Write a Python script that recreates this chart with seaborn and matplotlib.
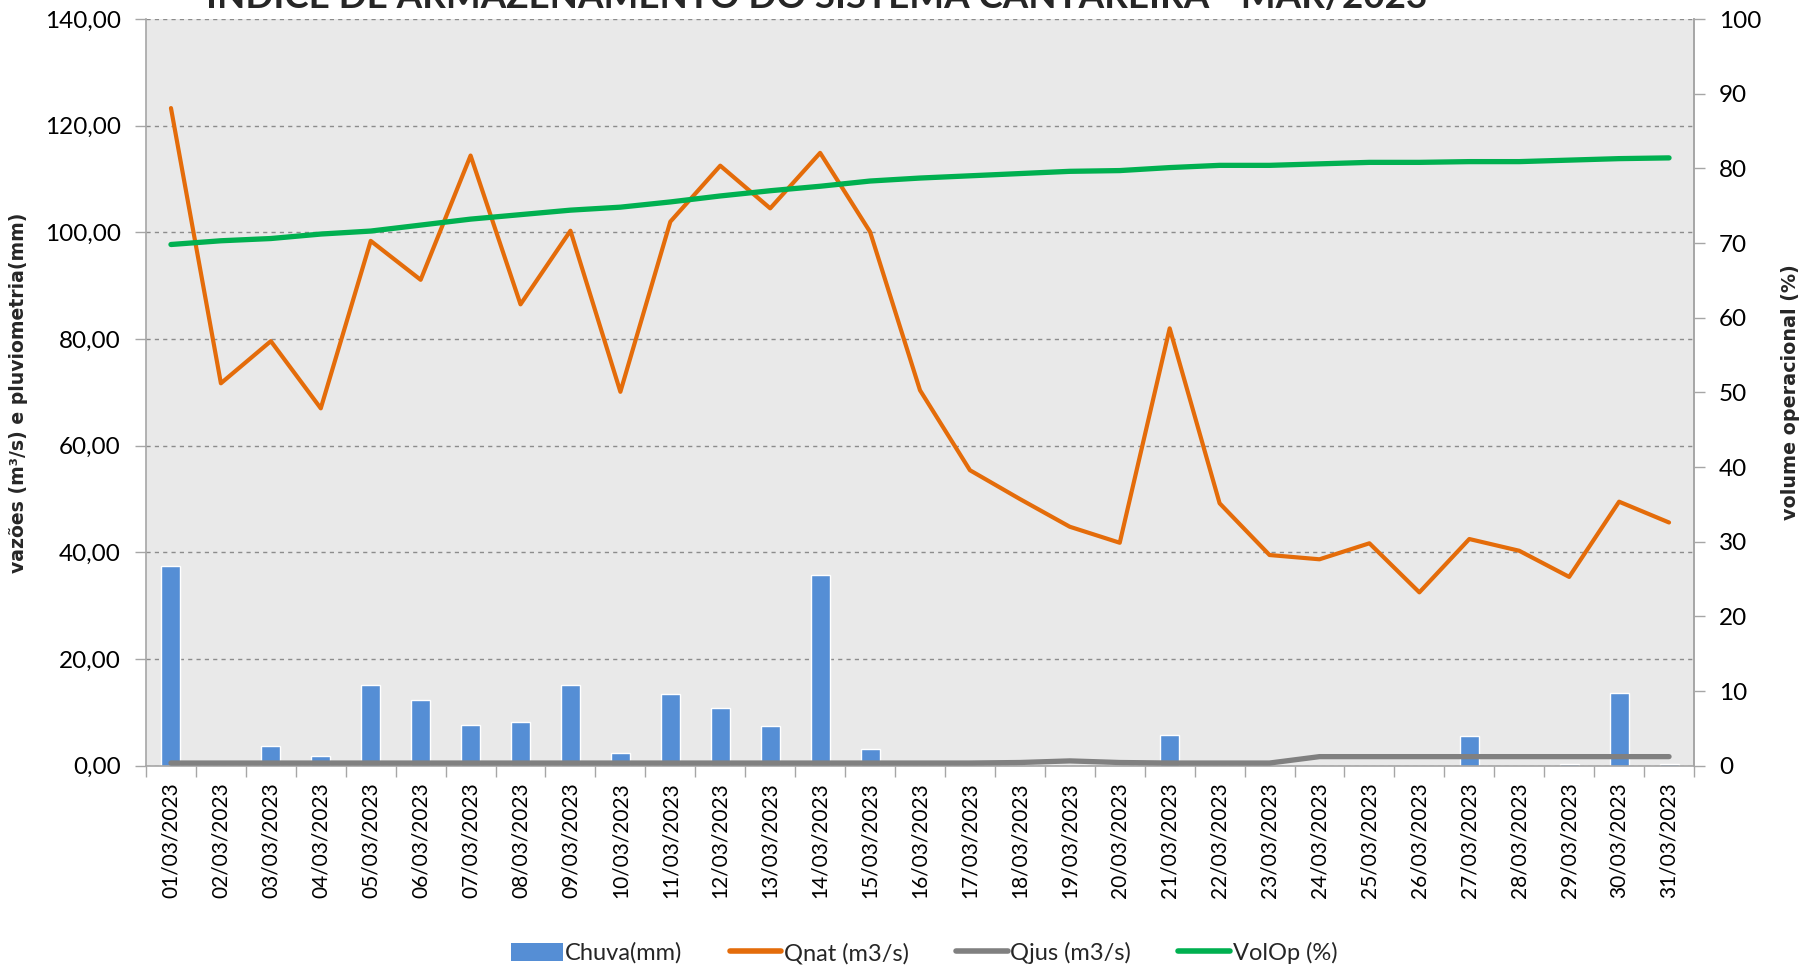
import numpy as np
import pandas as pd
import matplotlib
matplotlib.use("Agg")
import matplotlib.pyplot as plt
from matplotlib.patches import Patch
from matplotlib.lines import Line2D
from matplotlib.ticker import MultipleLocator, FixedLocator, FuncFormatter
import seaborn as sns

dates = [f"{d:02d}/03/2023" for d in range(1, 32)]
chuva = [37.4, 0.0, 3.6, 1.9, 15.1, 12.3, 7.6, 8.1, 15.1, 2.3, 13.4, 10.8, 7.4, 35.7, 3.1,
         0.0, 0.0, 0.0, 0.0, 0.0, 5.7, 0.0, 0.0, 0.0, 0.0, 0.0, 5.5, 0.0, 0.3, 13.7, 0.3]
qnat = [123.3, 71.7, 79.6, 67.0, 98.4, 91.1, 114.4, 86.5, 100.3, 70.1, 102.0, 112.5, 104.5, 114.9, 100.1,
        70.4, 55.4, 50.0, 44.8, 41.8, 82.0, 49.2, 39.5, 38.7, 41.7, 32.5, 42.5, 40.3, 35.4, 49.5, 45.6]
qjus = [0.5, 0.5, 0.5, 0.5, 0.5, 0.5, 0.5, 0.5, 0.5, 0.5, 0.5, 0.5, 0.5, 0.5, 0.5,
        0.5, 0.5, 0.6, 0.9, 0.6, 0.5, 0.5, 0.5, 1.7, 1.7, 1.7, 1.7, 1.7, 1.7, 1.7, 1.7]
volop = [69.8, 70.3, 70.6, 71.2, 71.6, 72.4, 73.2, 73.8, 74.4, 74.8, 75.5, 76.3, 77.0, 77.6, 78.3,
         78.7, 79.0, 79.3, 79.6, 79.7, 80.1, 80.4, 80.4, 80.6, 80.8, 80.8, 80.9, 80.9, 81.1, 81.3, 81.4]

title = "ÍNDICE DE ARMAZENAMENTO DO SISTEMA CANTAREIRA - MAR/2023"
left_label = "vazões (m³/s) e pluviometria(mm)"
right_label = "volume operacional (%)"
legend_labels = ["Chuva(mm)", "Qnat (m3/s)", "Qjus (m3/s)", "VolOp (%)"]

C_BAR = "#558ED5"
C_QNAT = "#E46C0A"
C_QJUS = "#808080"
C_VOL = "#00B050"
BG = "#E9E9E9"
AXC = "#A6A6A6"

sns.set_theme(style="white")
plt.rcParams["font.family"] = ["Lato", "DejaVu Sans"]

df = pd.DataFrame({"data": dates, "idx": np.arange(len(dates)), "chuva": chuva,
                   "qnat": qnat, "qjus": qjus, "volop": volop})

fig = plt.figure(figsize=(18.02, 9.68), dpi=100)
ax = fig.add_axes([146 / 1802, 1 - 765.7 / 968, (1694 - 146) / 1802, (765.7 - 19) / 968])
ax.set_facecolor(BG)

sns.barplot(data=df, x="idx", y="chuva", color=C_BAR, width=0.38, saturation=1, ax=ax, zorder=2)
sns.lineplot(data=df, x="idx", y="qnat", color=C_QNAT, lw=3.0, ax=ax, zorder=4)
sns.lineplot(data=df, x="idx", y="qjus", color=C_QJUS, lw=3.8, ax=ax, zorder=3)

ax.set_xlim(-0.5, len(dates) - 0.5)
ax.set_ylim(0, 140)
ax.yaxis.set_major_locator(MultipleLocator(20))
ax.yaxis.set_major_formatter(FuncFormatter(lambda v, p: f"{v:.2f}".replace(".", ",")))
ax.grid(axis="y", color="#8C8C8C", ls=(0, (3, 3)), lw=1.0, zorder=1)
ax.set_axisbelow(True)

ax.xaxis.set_major_locator(FixedLocator(np.arange(len(dates))))
ax.set_xticklabels(dates, rotation=90)
ax.xaxis.set_minor_locator(FixedLocator(np.arange(len(dates) + 1) - 0.5))
ax.tick_params(axis="x", which="major", length=0, pad=12, labelsize=15, colors="black")
ax.tick_params(axis="x", which="minor", length=8, width=1, color=AXC, bottom=True)
ax.tick_params(axis="y", which="major", length=8, width=1, color=AXC, pad=10, labelsize=17.5,
               labelcolor="black", left=True)
ax.set_xlabel("")
ax.set_ylabel(left_label, fontsize=13.6, fontweight="bold", family="DejaVu Sans", labelpad=12)

ax.spines["top"].set_visible(False)
for s in ["left", "bottom", "right"]:
    ax.spines[s].set_color(AXC)
    ax.spines[s].set_linewidth(1.2)

ax2 = ax.twinx()
sns.lineplot(data=df, x="idx", y="volop", color=C_VOL, lw=3.8, ax=ax2, zorder=5)
ax2.set_ylim(0, 100)
ax2.yaxis.set_major_locator(MultipleLocator(10))
ax2.tick_params(axis="y", length=8, width=1, color=AXC, pad=10, labelsize=17.5, labelcolor="black", right=True)
ax2.set_ylabel(right_label, fontsize=13.8, fontweight="bold", family="DejaVu Sans", labelpad=14)
ax2.set_xlabel("")
for s in ["top", "left", "bottom"]:
    ax2.spines[s].set_visible(False)
ax2.spines["right"].set_color(AXC)
ax2.spines["right"].set_linewidth(1.2)
ax2.set_xlim(-0.5, len(dates) - 0.5)

fig.text(817 / 1802, 1 - 8 / 968, title, ha="center", va="baseline", fontsize=26.5, fontweight="bold")

handles = [Patch(facecolor=C_BAR, edgecolor="none"),
           Line2D([], [], color=C_QNAT, lw=4),
           Line2D([], [], color=C_QJUS, lw=4),
           Line2D([], [], color=C_VOL, lw=4)]
fig.legend(handles, legend_labels, loc="center", bbox_to_anchor=(924 / 1802, 1 - 953 / 968), ncol=4,
           frameon=False, fontsize=17, handlelength=2.2, handleheight=0.8, handletextpad=0.1,
           columnspacing=2.0)

fig.savefig("out.png", dpi=100)
